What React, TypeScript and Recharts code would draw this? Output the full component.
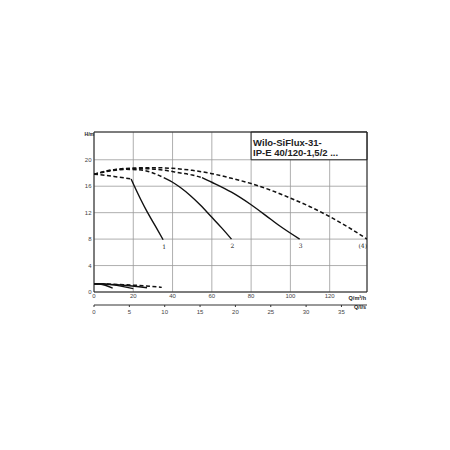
import React from "react"
import {
  LineChart,
  Line,
  XAxis,
  YAxis,
  CartesianGrid,
  ReferenceArea,
} from "recharts"

// Q in m³/h, H in m
const curve1Dash = [[0, 17.8], [6, 17.65], [12, 17.4], [18.9, 17.1]]
const curve1 = [[18.9, 17.1], [20.4, 16.1], [23.8, 14.0], [27.3, 12.0], [31.2, 10.0], [35.2, 7.9]]
const curve2Dash = [[0, 17.8], [8, 18.3], [16, 18.55], [24, 18.45], [30, 18.0], [35.5, 17.3]]
const curve2 = [[35.5, 17.3], [40, 16.6], [44, 15.8], [49, 14.6], [54, 13.2], [60, 11.3], [65, 9.7], [70, 8.0]]
const curve3Dash = [[0, 17.8], [8, 18.4], [16, 18.6], [25, 18.65], [35, 18.45], [44, 18.0], [50, 17.7], [55, 17.3]]
const curve3 = [[55, 17.3], [60, 16.6], [70, 15.1], [80, 13.2], [90, 11.0], [95, 9.9], [104.7, 8.0]]
const curve4 = [
  [0, 17.8], [10, 18.5], [20, 18.75], [30, 18.8], [40, 18.7], [50, 18.4], [60, 17.9],
  [70, 17.2], [80, 16.4], [90, 15.4], [100, 14.2], [110, 12.9], [120, 11.4], [130, 9.7], [139, 8.0],
]
const power1 = [[0, 1.25], [3, 1.2], [9.5, 0.6]]
const power2 = [[0, 1.25], [8, 1.15], [20, 0.5]]
const power3 = [[0, 1.25], [14, 1.05], [27, 0.65]]
const power4Dash = [[0, 1.25], [15, 1.1], [25, 0.95], [34.5, 0.7]]

const qTicks = [0, 20, 40, 60, 80, 100, 120]
const lsTicks = [0, 5, 10, 15, 20, 25, 30, 35]
const hTicks = [0, 4, 8, 12, 16, 20]
const titleLines = ["Wilo-SiFlux-31-", "IP-E 40/120-1,5/2 ..."]

const Q_MAX = 139
const H_MAX = 24.2
const LS = 3.6 // m³/h per l/s

const toPts = (arr: number[][]) => arr.map(([q, h]) => ({ q, h }))

const tickStyle = { fontSize: 6, fill: "#444", fontFamily: "Liberation Sans" }

function endLabel(text: string, last: number, anchor: "middle" | "end" = "middle") {
  return (props: any) => {
    if (props.index !== last) return null
    return (
      <text
        x={anchor === "end" ? props.x : props.x + 1}
        y={props.y + 9}
        fontSize={6}
        fontFamily="DejaVu Serif"
        textAnchor={anchor}
        fill="#222"
        stroke="none"
      >
        {text}
      </text>
    )
  }
}

function unitLabel(text: string, dx: number, dy: number, size = 5.5) {
  return (p: any) => (
    <text
      x={p.viewBox.x + p.viewBox.width + dx}
      y={p.viewBox.y + dy}
      fontSize={size}
      fontWeight="bold"
      fontFamily="Liberation Sans"
      textAnchor="end"
      fill="#222"
    >
      {text}
    </text>
  )
}

export default function App() {
  const solid = { stroke: "#111", strokeWidth: 1.4, dot: false, isAnimationActive: false, type: "monotone" as const }
  const dashed = { ...solid, strokeWidth: 1.5, strokeDasharray: "4 2.5" }

  return (
    <div style={{ position: "absolute", left: 0, top: 0, width: 450, height: 450, background: "#fff" }}>
      <LineChart
        width={450}
        height={450}
        margin={{ top: 132, right: 83, left: 74, bottom: 129 }}
      >
        <CartesianGrid stroke="#9a9a9a" strokeWidth={0.8} />
        <XAxis
          dataKey="q"
          type="number"
          domain={[0, Q_MAX]}
          ticks={qTicks}
          height={13}
          tickSize={0}
          tickMargin={2}
          axisLine={false}
          tick={tickStyle}
          allowDataOverflow
          label={{ content: unitLabel("Q/m³/h", -1, 7.5) }}
        />
        {/* second scale in l/s, same positions as m³/h */}
        <XAxis
          xAxisId="ls"
          dataKey="q"
          type="number"
          domain={[0, Q_MAX]}
          ticks={lsTicks.map((v) => v * LS)}
          tickFormatter={(v: number) => String(Math.round(v / LS))}
          height={16}
          tickSize={2}
          tickMargin={3}
          stroke="#333"
          tick={tickStyle}
          allowDataOverflow
          label={{ content: unitLabel("Q/l/s", -1, 4) }}
        />
        <YAxis
          type="number"
          domain={[0, H_MAX]}
          ticks={hTicks}
          width={20}
          tickSize={0}
          tickMargin={2.5}
          axisLine={false}
          tick={tickStyle}
          allowDataOverflow
          label={{ content: unitLabel("H/m", 0, 4, 5) }}
        />
        <ReferenceArea
          x1={80}
          x2={Q_MAX}
          y1={20}
          y2={H_MAX}
          fill="#fff"
          fillOpacity={1}
          stroke="#222"
          strokeWidth={1}
          label={{
            content: (p: any) => (
              <g>
                {titleLines.map((t, i) => (
                  <text
                    key={i}
                    x={p.viewBox.x + 2}
                    y={p.viewBox.y + 14 + i * 9.5}
                    fontSize={9.5}
                    fontWeight="bold"
                    fontFamily="Liberation Sans Narrow, Liberation Sans"
                    fill="#222"
                  >
                    {t}
                  </text>
                ))}
              </g>
            ),
          }}
        />
        <ReferenceArea x1={0} x2={Q_MAX} y1={0} y2={H_MAX} fill="none" stroke="#222" strokeWidth={1} />

        <Line data={toPts(curve4)} dataKey="h" {...dashed} label={endLabel("(4)", curve4.length - 1, "end")} />
        <Line data={toPts(curve3Dash)} dataKey="h" {...dashed} />
        <Line data={toPts(curve2Dash)} dataKey="h" {...dashed} />
        <Line data={toPts(curve1Dash)} dataKey="h" {...dashed} />
        <Line data={toPts(curve1)} dataKey="h" {...solid} label={endLabel("1", curve1.length - 1)} />
        <Line data={toPts(curve2)} dataKey="h" {...solid} label={endLabel("2", curve2.length - 1)} />
        <Line data={toPts(curve3)} dataKey="h" {...solid} label={endLabel("3", curve3.length - 1)} />
        <Line data={toPts(power1)} dataKey="h" {...solid} />
        <Line data={toPts(power2)} dataKey="h" {...solid} />
        <Line data={toPts(power3)} dataKey="h" {...solid} />
        <Line xAxisId="ls" data={toPts(power4Dash)} dataKey="h" {...dashed} />
      </LineChart>
    </div>
  )
}
